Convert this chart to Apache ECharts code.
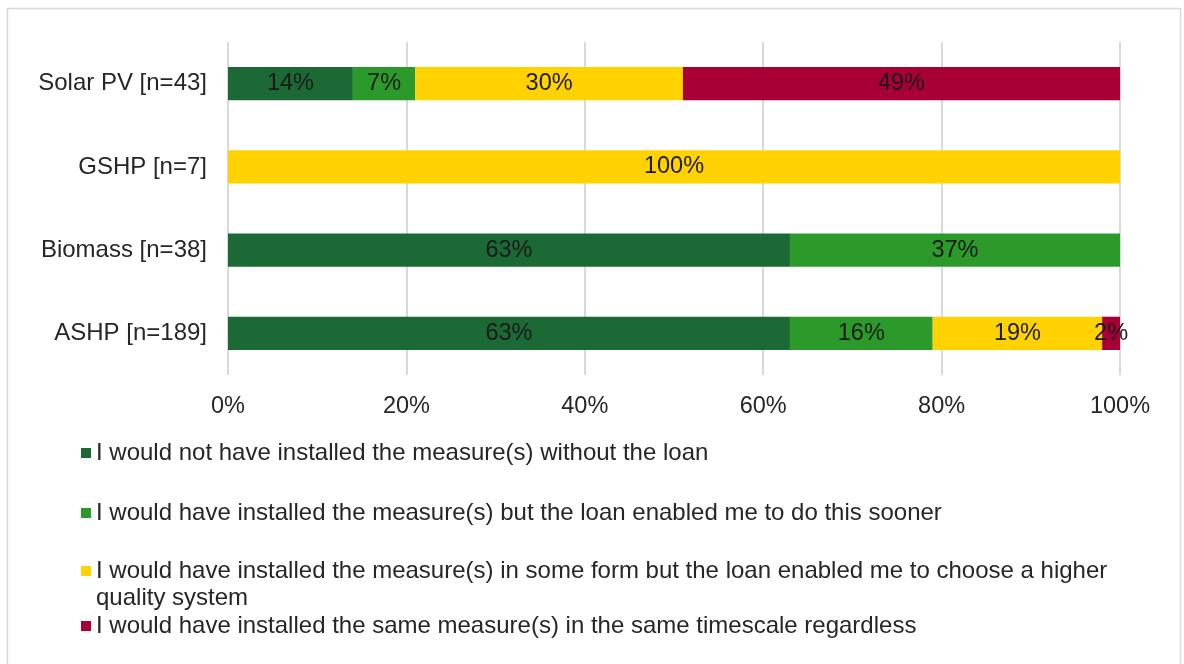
<!DOCTYPE html>
<html>
<head>
<meta charset="utf-8">
<script src="https://cdn.jsdelivr.net/npm/echarts@6/dist/echarts.min.js"></script>
<style>
  html, body { margin: 0; padding: 0; background: #ffffff; }
  #chart { width: 1184px; height: 664px; }
</style>
</head>
<body>
<div id="chart"></div>
<script>
// Technologies (top to bottom)
const categories = ['Solar PV [n=43]', 'GSHP [n=7]', 'Biomass [n=38]', 'ASHP [n=189]'];

// Share of respondents per answer, in percent
const notWithoutLoan   = [14, 0, 63, 63];
const sooner           = [7, 0, 37, 16];
const higherQuality    = [30, 100, 0, 19];
const sameRegardless   = [49, 0, 0, 2];

const seriesNames = [
  'I would not have installed the measure(s) without the loan',
  'I would have installed the measure(s) but the loan enabled me to do this sooner',
  'I would have installed the measure(s) in some form but the loan enabled me to choose a higher\nquality system',
  'I would have installed the same measure(s) in the same timescale regardless'
];
const seriesData = [notWithoutLoan, sooner, higherQuality, sameRegardless];
const colors = ['#1b6a36', '#2b9a2a', '#ffd200', '#a80036'];

const xTicks = [0, 20, 40, 60, 80, 100];

const font = '"Liberation Sans", Arial, sans-serif';
const labelSize = 23.5;
const textSize = 24;

const chart = echarts.init(document.getElementById('chart'));

const series = seriesNames.map((name, i) => ({
  name: name,
  type: 'bar',
  stack: 'total',
  barWidth: '40%',
  itemStyle: { color: colors[i] },
  label: {
    show: true,
    position: 'inside',
    color: '#1a1a1a',
    fontFamily: font,
    fontSize: labelSize,
    formatter: p => (p.value ? p.value + '%' : '')
  },
  emphasis: { disabled: true },
  data: seriesData[i]
}));

// One legend block per answer so each row sits at its own height.
// A wrapped entry gets an empty first line so its marker lines up with the first text line.
const legendTops = [439.5, 499.5, 530.5, 612.5];
const legends = seriesNames.map((name, i) => ({
  data: [name],
  left: 81,
  top: legendTops[i],
  orient: 'vertical',
  padding: 0,
  itemWidth: 10,
  itemHeight: 10,
  itemGap: 0,
  icon: 'rect',
  selectedMode: false,
  formatter: n => (n.indexOf('\n') >= 0 ? '\n' + n : n),
  textStyle: {
    fontFamily: font,
    fontSize: textSize,
    color: '#262626',
    lineHeight: 27
  }
}));

chart.setOption({
  animation: false,
  backgroundColor: '#ffffff',
  color: colors,
  graphic: [{
    type: 'rect',
    shape: { x: 7.5, y: 8.5, width: 1173, height: 680 },
    style: { fill: 'none', stroke: '#d9d9d9', lineWidth: 1.5 },
    silent: true
  }],
  grid: { left: 228, right: 64, top: 42, bottom: 289, containLabel: false },
  xAxis: {
    type: 'value',
    min: 0,
    max: 100,
    interval: 20,
    axisLine: { show: false },
    axisTick: { show: false },
    splitLine: { show: true, lineStyle: { color: '#d9d9d9', width: 2 } },
    axisLabel: {
      margin: 20,
      fontFamily: font,
      fontSize: labelSize,
      color: '#262626',
      formatter: v => (xTicks.includes(v) ? v + '%' : '')
    }
  },
  yAxis: {
    type: 'category',
    inverse: true,
    data: categories,
    axisLine: { show: false },
    axisTick: { show: false },
    splitLine: { show: false },
    axisLabel: {
      margin: 21,
      fontFamily: font,
      fontSize: textSize,
      color: '#262626'
    }
  },
  legend: legends,
  series: series
});
</script>
</body>
</html>
